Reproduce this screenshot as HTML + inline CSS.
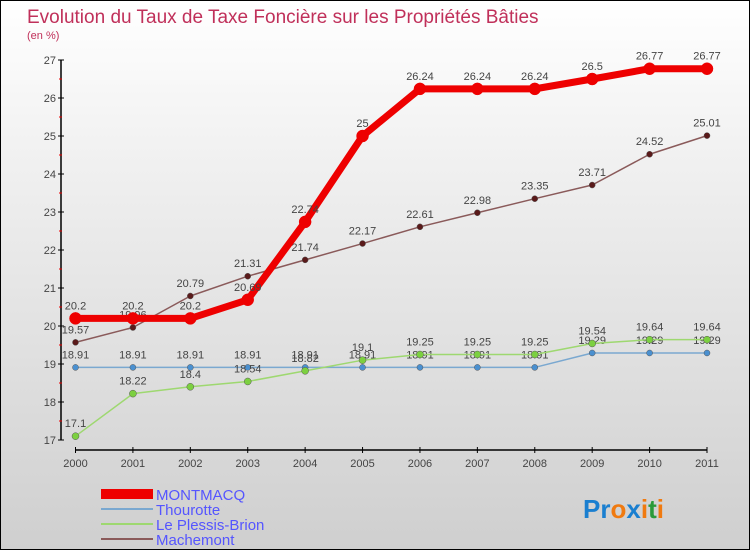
<!DOCTYPE html>
<html><head><meta charset="utf-8"><style>
body{margin:0}
#c{width:748px;height:548px;border:1px solid #000;background:linear-gradient(#fff,#f0f0f0 30%,#cfcfcf);position:relative;font-family:"Liberation Sans",sans-serif}
text{font-family:"Liberation Sans",sans-serif}
</style></head><body>
<div id="c">
<svg id="s" width="748" height="548">
<text x="26" y="22" font-size="19" fill="#c0305a">Evolution du Taux de Taxe Foncière sur les Propriétés Bâties</text>
<text x="26" y="38" font-size="11" fill="#c0305a">(en %)</text>
<g id="axes"></g><g id="series"></g>
<g>
<rect x="100" y="488" width="52" height="10" fill="#e00"/>
<text x="155" y="499" font-size="15" fill="#55f">MONTMACQ</text>
<line x1="100" y1="508" x2="152" y2="508" stroke="#7aa8d0" stroke-width="2"/>
<text x="155" y="514" font-size="15" fill="#55f">Thourotte</text>
<line x1="100" y1="523" x2="152" y2="523" stroke="#9ed870" stroke-width="2"/>
<text x="155" y="529" font-size="15" fill="#55f">Le Plessis-Brion</text>
<line x1="100" y1="538" x2="152" y2="538" stroke="#8a5a5a" stroke-width="2"/>
<text x="155" y="544" font-size="15" fill="#55f">Machemont</text>
</g>
<text x="582" y="517" font-size="26" font-weight="bold"><tspan fill="#1a7fd0">Pr</tspan><tspan fill="#f07a10">o</tspan><tspan fill="#1a7fd0">x</tspan><tspan fill="#f07a10">i</tspan><tspan fill="#2a9a3a">t</tspan><tspan fill="#f07a10">i</tspan></text>
</svg></div>
<script>
const years=[2000,2001,2002,2003,2004,2005,2006,2007,2008,2009,2010,2011];
const yTicks=[17,18,19,20,21,22,23,24,25,26,27];
const montmacq=[20.2,20.2,20.2,20.69,22.74,25,26.24,26.24,26.24,26.5,26.77,26.77];
const thourotte=[18.91,18.91,18.91,18.91,18.91,18.91,18.91,18.91,18.91,19.29,19.29,19.29];
const plessis=[17.1,18.22,18.4,18.54,18.82,19.1,19.25,19.25,19.25,19.54,19.64,19.64];
const machemont=[19.57,19.96,20.79,21.31,21.74,22.17,22.61,22.98,23.35,23.71,24.52,25.01];
const NS="http://www.w3.org/2000/svg";
const xs=i=>74.5+i*(706-74.5)/11;
const ys=v=>439-(v-17)*38;
function mk(p,t,a){const e=document.createElementNS(NS,t);for(const k in a)e.setAttribute(k,a[k]);p.appendChild(e);return e;}
const ax=document.getElementById('axes');
const yl=mk(ax,'line',{x1:60,y1:ys(27),x2:60,y2:ys(17),stroke:'#000','stroke-width':1.5});


const xl=mk(ax,'line',{x1:xs(0),y1:449,x2:xs(11),y2:449,stroke:'#000','stroke-width':1.5});


yTicks.forEach(v=>{
 mk(ax,'line',{x1:57,y1:ys(v),x2:63,y2:ys(v),stroke:'#000'});
 if(v<27)mk(ax,'line',{x1:58,y1:ys(v+0.5),x2:61,y2:ys(v+0.5),stroke:'#e00'});
 const t=mk(ax,'text',{x:55,y:ys(v)+4,'font-size':11,fill:'#444','text-anchor':'end'});t.textContent=v;
 
 
});
years.forEach((y,i)=>{
 mk(ax,'line',{x1:xs(i),y1:446,x2:xs(i),y2:452,stroke:'#000'});
 const t=mk(ax,'text',{x:xs(i),y:466,'font-size':11,fill:'#444','text-anchor':'middle'});t.textContent=y;
 
 
});
const sg=document.getElementById('series');
function series(name,vals,col,w,r,fill){
 const g=mk(sg,'g',{});
 
 
 mk(g,'polyline',{points:vals.map((v,i)=>xs(i)+','+ys(v)).join(' '),fill:'none',stroke:col,'stroke-width':w,'stroke-linejoin':'round'});
 vals.forEach((v,i)=>{
  const c=mk(g,'circle',{cx:xs(i),cy:ys(v),r:r,fill:fill,stroke:col==='#e00'?'#e00':'#555','stroke-width':0.5});
  
  
  const t=mk(g,'text',{x:xs(i),y:ys(v)-9,'font-size':11,fill:'#444','text-anchor':'middle'});t.textContent=v;
  
  
 });
}
series('thourotte',thourotte,'#7aa8d0',1.5,3,'#4a90d0');
series('plessis',plessis,'#9ed870',1.5,3.5,'#7cd040');
series('machemont',machemont,'#8a5a5a',1.5,3,'#5a1a1a');
series('montmacq',montmacq,'#e00',7,6,'#e00');
</script>
</body></html>
